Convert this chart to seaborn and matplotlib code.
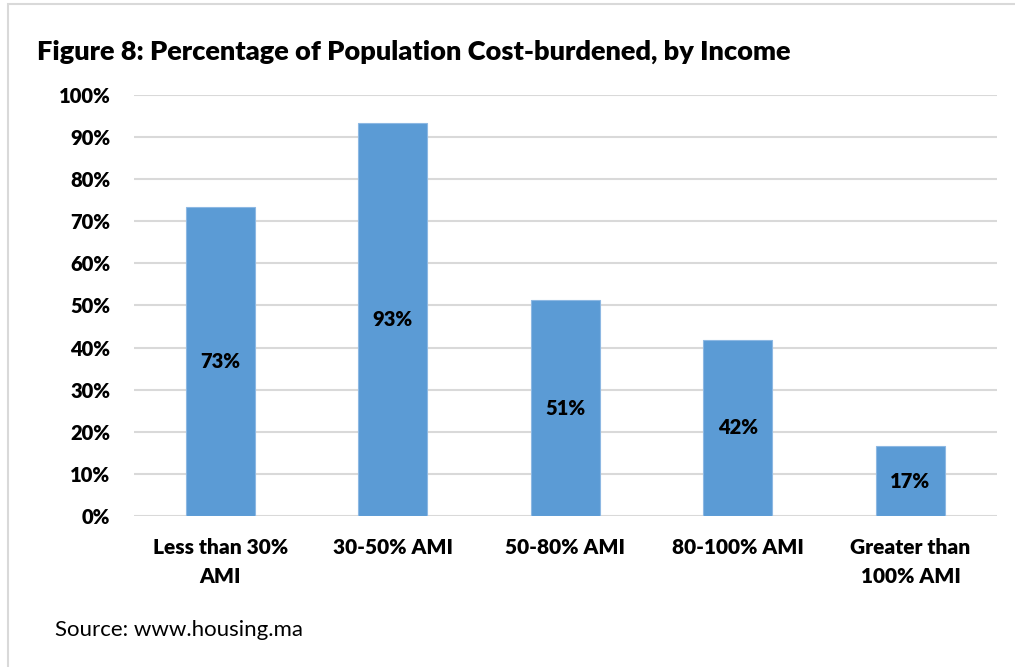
import matplotlib
matplotlib.use("Agg")
import matplotlib.pyplot as plt
import seaborn as sns
import pandas as pd
from matplotlib.patches import Rectangle

categories = ["Less than 30%\nAMI", "30-50% AMI", "50-80% AMI", "80-100% AMI", "Greater than\n100% AMI"]
values = [73.3, 93.3, 51.3, 41.9, 16.6]
labels = ["73%", "93%", "51%", "42%", "17%"]
yticks = [0, 10, 20, 30, 40, 50, 60, 70, 80, 90, 100]

sns.set_theme(style="white")
plt.rcParams['font.family'] = ['Lato', 'DejaVu Sans']

df = pd.DataFrame({"cat": categories, "val": values})

fig = plt.figure(figsize=(10.15, 6.67), dpi=100)
ax = fig.add_axes([0.132, 0.2264, 0.850, 0.6312])

sns.barplot(data=df, x="cat", y="val", color="#5b9bd5", width=0.4, ax=ax,
            edgecolor="#8db8e3", linewidth=0.8, saturation=1, zorder=3)

W = 800
ax.set_ylim(0, 100)
ax.set_xlim(-0.5, 4.5)
ax.set_yticks(yticks)
ax.set_yticklabels([f"{t}%" for t in yticks], fontsize=14.5, fontweight=W, color="#000000")
ax.set_xticks(range(len(categories)))
ax.set_xticklabels(categories, fontsize=15, fontweight=W, color="#000000", linespacing=1.6)
ax.tick_params(axis="y", length=0, pad=17)
ax.tick_params(axis="x", length=0, pad=16)
ax.set_xlabel("")
ax.set_ylabel("")
ax.grid(axis="y", color="#d9d9d9", linewidth=1.5, zorder=0)
for s in ax.spines.values():
    s.set_visible(False)

for i, (v, lab) in enumerate(zip(values, labels)):
    ax.text(i, v / 2, lab, ha="center", va="center", fontsize=14.5, fontweight=W, color="#000000", zorder=4)

fig.text(37 / 1015, 1 - 52 / 667, "Figure 8: Percentage of Population Cost-burdened, by Income",
         fontsize=19.5, fontweight=W, ha="left", va="center", color="#000000")
fig.text(55 / 1015, 1 - 630 / 667, "Source: www.housing.ma", fontsize=16, ha="left", va="center", color="#000000")

fig.patches.append(Rectangle((8 / 1015, -0.01), 1.0, 1 - 4 / 667 + 0.01, transform=fig.transFigure,
                             fill=False, edgecolor="#d9d9d9", linewidth=1.5))

fig.savefig("out.png", dpi=100)
